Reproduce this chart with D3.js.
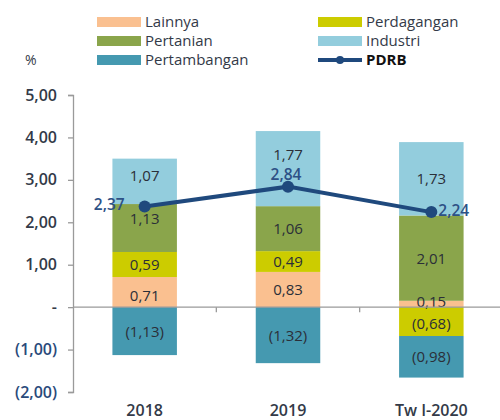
<!DOCTYPE html>
<html>
<head>
<meta charset="utf-8">
<script src="https://cdn.jsdelivr.net/npm/d3@7"></script>
<style>
html,body{margin:0;padding:0;background:#fff;}
svg{display:block;font-family:"Open Sans",sans-serif;}
</style>
</head>
<body>
<svg id="chart" width="500" height="420"></svg>
<script>
const categories = ["2018", "2019", "Tw I-2020"];
const lainnya = [0.71, 0.83, 0.15];
const perdagangan = [0.59, 0.49, -0.68];
const pertanian = [1.13, 1.06, 2.01];
const industri = [1.07, 1.77, 1.73];
const pertambangan = [-1.13, -1.32, -0.98];
const pdrb = [2.37, 2.84, 2.24];
const yTicks = [-2, -1, 0, 1, 2, 3, 4, 5];

const seriesNames = ["Lainnya", "Perdagangan", "Pertanian", "Industri", "Pertambangan"];
const seriesValues = [lainnya, perdagangan, pertanian, industri, pertambangan];
const colors = {
  Lainnya: "#FAC090",
  Perdagangan: "#CCCC00",
  Pertanian: "#8AA54B",
  Industri: "#93CDDD",
  Pertambangan: "#4599B0"
};
const lineColor = "#1F497D";
// label placement nudges (pixels), styling only
const labelNudge = {"Industri|2018": -6, "Pertanian|2018": -9, "Industri|2019": -14, "Lainnya|2018": 4,
  "Lainnya|Tw I-2020": -2, "Perdagangan|Tw I-2020": 2};

const table = categories.map((c, i) => {
  const row = {cat: c};
  seriesNames.forEach((s, j) => row[s] = seriesValues[j][i]);
  return row;
});

const svg = d3.select("#chart");
const x = d3.scaleBand().domain(categories).range([73, 503]).paddingInner(0.55).paddingOuter(0.275);
const y = d3.scaleLinear().domain([-2, 5]).range([392, 95]);

const fmt = v => {
  const s = Math.abs(v).toFixed(2).replace(".", ",");
  return v < 0 ? "(" + s + ")" : s;
};

const stack = d3.stack().keys(seriesNames).offset(d3.stackOffsetDiverging);
const stacked = stack(table);

// bars
const g = svg.append("g");
stacked.forEach(layer => {
  g.selectAll(null).data(layer).enter().append("rect")
    .attr("x", d => x(d.data.cat))
    .attr("width", x.bandwidth())
    .attr("y", d => y(Math.max(d[0], d[1])))
    .attr("height", d => Math.abs(y(d[0]) - y(d[1])))
    .attr("fill", colors[layer.key]);
});

// zero line
svg.append("line").attr("x1", 73).attr("x2", 500).attr("y1", y(0)).attr("y2", y(0))
  .attr("stroke", "#9a9a9a").attr("stroke-width", 1.3);
[1, 2].forEach(i => {
  const xx = x(categories[i]) - x.step() * x.paddingInner() / 2;
  svg.append("line").attr("x1", xx).attr("x2", xx).attr("y1", y(0)).attr("y2", y(0) + 5)
    .attr("stroke", "#9a9a9a").attr("stroke-width", 1.3);
});

// y axis
const yAxis = d3.axisLeft(y).tickValues(yTicks).tickSize(5).tickPadding(11)
  .tickFormat(v => v === 0 ? "-" : fmt(v));
const ya = svg.append("g").attr("transform", "translate(73,0)").call(yAxis);
ya.select(".domain").attr("stroke", "#9a9a9a").attr("stroke-width", 1.3);
ya.selectAll(".tick line").attr("stroke", "#9a9a9a").attr("stroke-width", 1.3);
ya.selectAll(".tick text").attr("font-size", 16).attr("font-family", "Open Sans")
  .attr("fill", v => v < 0 ? "#2a4a7a" : "#333a48").attr("font-weight", 600);

// segment labels
stacked.forEach(layer => {
  g.selectAll(null).data(layer).enter().append("text")
    .attr("x", d => x(d.data.cat) + x.bandwidth() / 2)
    .attr("y", d => (y(d[0]) + y(d[1])) / 2 + (labelNudge[layer.key + "|" + d.data.cat] || 0))
    .attr("dy", "0.36em")
    .attr("text-anchor", "middle")
    .attr("font-size", 15)
    .attr("fill", "#2b2f38")
    .text(d => fmt(d.data[layer.key]));
});

// PDRB line
const cx = (d, i) => x(categories[i]) + x.bandwidth() / 2;
const line = d3.line().x((d, i) => cx(d, i)).y(d => y(d));
svg.append("path").datum(pdrb).attr("d", line).attr("fill", "none")
  .attr("stroke", lineColor).attr("stroke-width", 4);
svg.selectAll(".pt").data(pdrb).enter().append("circle")
  .attr("cx", cx).attr("cy", d => y(d)).attr("r", 6).attr("fill", lineColor);
const pdrbLabelPos = ["left", "above", "right"];
svg.selectAll(".pl").data(pdrb).enter().append("text")
  .attr("x", (d, i) => cx(d, i) + (pdrbLabelPos[i] === "left" ? -20 : pdrbLabelPos[i] === "right" ? 7 : -2))
  .attr("y", (d, i) => y(d) + (pdrbLabelPos[i] === "above" ? -12 : -2))
  .attr("dy", "0.36em")
  .attr("text-anchor", (d, i) => pdrbLabelPos[i] === "left" ? "end" : pdrbLabelPos[i] === "right" ? "start" : "middle")
  .attr("font-size", 15.5).attr("font-weight", 600)
  .attr("fill", "#2d5186")
  .text(d => fmt(d));

// category labels
svg.selectAll(".cl").data(categories).enter().append("text")
  .attr("x", d => x(d) + x.bandwidth() / 2)
  .attr("y", 416)
  .attr("text-anchor", "middle")
  .attr("font-size", 16).attr("font-weight", 600)
  .attr("fill", "#333a48")
  .text(d => d);

// legend
const legendItems = [
  {name: "Lainnya", col: 0, row: 0},
  {name: "Perdagangan", col: 1, row: 0},
  {name: "Pertanian", col: 0, row: 1},
  {name: "Industri", col: 1, row: 1},
  {name: "Pertambangan", col: 0, row: 2},
  {name: "PDRB", col: 1, row: 2, line: true}
];
const lg = svg.append("g");
legendItems.forEach(it => {
  const lx = it.col === 0 ? 97 : 318;
  const ly = 22 + it.row * 19;
  if (it.line) {
    lg.append("line").attr("x1", lx).attr("x2", lx + 44).attr("y1", ly).attr("y2", ly)
      .attr("stroke", lineColor).attr("stroke-width", 4);
    lg.append("circle").attr("cx", lx + 22).attr("cy", ly).attr("r", 4).attr("fill", lineColor);
  } else {
    lg.append("rect").attr("x", lx).attr("y", ly - 5).attr("width", 44).attr("height", 10)
      .attr("fill", colors[it.name]);
  }
  lg.append("text").attr("x", lx + 48).attr("y", ly).attr("dy", "0.36em")
    .attr("font-size", 15)
    .attr("font-weight", it.line ? 700 : 400)
    .attr("fill", it.line ? "#111" : "#333a48")
    .text(it.name);
});
svg.append("text").attr("x", 25).attr("y", 60).attr("dy", "0.36em")
  .attr("font-size", 14).attr("fill", "#333a48").text("%");
</script>
</body>
</html>
